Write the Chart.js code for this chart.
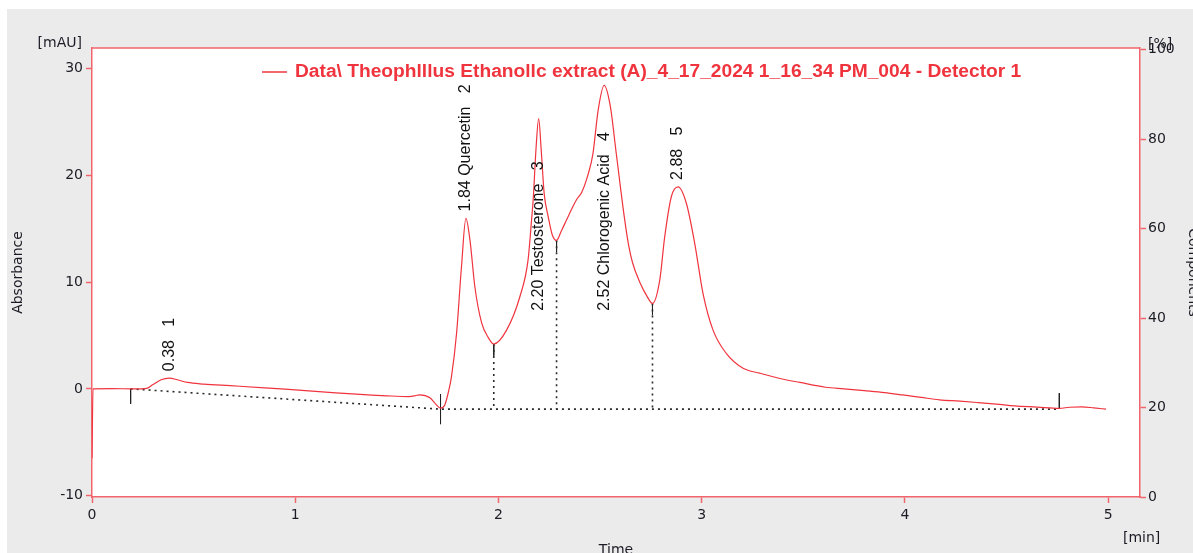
<!DOCTYPE html>
<html>
<head>
<meta charset="utf-8">
<script src="https://cdn.jsdelivr.net/npm/chart.js@4.4.1/dist/chart.umd.min.js"></script>
<style>
  html, body { margin: 0; padding: 0; background: #fff; }
  #wrap { width: 1193px; height: 553px; }
</style>
</head>
<body>
<div id="wrap"><canvas id="chromatogram" width="1193" height="553"></canvas></div>
<script>
// detector trace
const times = [
  0, 0.005, 0.1, 0.2, 0.27, 0.3, 0.34, 0.38, 0.42, 0.47, 0.55, 0.68, 0.85, 1.0, 1.15, 1.3,
  1.45, 1.56, 1.6, 1.613, 1.663, 1.69, 1.715, 1.736, 1.755, 1.769, 1.794, 1.818, 1.84, 1.86,
  1.884, 1.917, 1.95, 1.977, 2.04, 2.105, 2.146, 2.163, 2.171, 2.185, 2.198, 2.21, 2.225,
  2.245, 2.265, 2.286, 2.31, 2.335, 2.36, 2.384, 2.41, 2.44, 2.465, 2.49, 2.52, 2.55, 2.58,
  2.62, 2.64, 2.66, 2.695, 2.73, 2.758, 2.794, 2.818, 2.851, 2.884, 2.925, 2.966, 3.007,
  3.056, 3.122, 3.204, 3.286, 3.39, 3.483, 3.61, 3.7, 3.8, 3.9, 3.99, 4.08, 4.17, 4.27,
  4.36, 4.45, 4.54, 4.65, 4.76, 4.81, 4.87, 4.93, 4.99
];
const absorbance = [
  -6.5, 0, 0.02, 0, 0.05, 0.4, 0.85, 1.0, 0.85, 0.6, 0.45, 0.3, 0.1, -0.1, -0.3, -0.5,
  -0.65, -0.72, -0.6, -0.56, -0.84, -1.4, -1.8, -1.5, -0.2, 1.15, 5.2, 11.4, 15.95, 13.9,
  9.56, 6.2, 4.8, 4.2, 5.5, 8.6, 12.1, 15.8, 17.7, 22.5, 25.3, 22.5, 18.3,
  16.1, 14.4, 13.9, 14.8, 15.8, 16.8, 17.7, 18.4, 20.0, 22.0, 26.0, 28.4, 26.5, 22.0,
  16.0, 13.5, 11.8, 10.0, 8.7, 8.0, 10.2, 14.2, 18.0, 18.9, 17.35, 13.6, 8.9,
  5.5, 3.3, 1.93, 1.47, 0.95, 0.6, 0.15, 0.0, -0.17, -0.35, -0.57, -0.8, -1.03, -1.15,
  -1.28, -1.42, -1.59, -1.7, -1.82, -1.72, -1.68, -1.78, -1.9
];

// integration baseline and peak splits
const baselineTimes = [0.19, 1.715, 4.76];
const baselineValues = [0, -1.9, -1.9];
const dropTimes = [1.977, 2.286, 2.758];
const dropValues = [4.2, 13.9, 8.0];
const markTimes = [0.19, 1.715, 4.76, 1.977, 2.286, 2.758];
const markTops = [0, -0.5, -0.4, 4.2, 13.9, 8.0];
const markBottoms = [-1.4, -3.3, -1.85, 3.1, 12.8, 6.9];

// peak table
const peakTimes = [0.38, 1.84, 2.20, 2.52, 2.88];
const peakApex = [1.0, 15.95, 25.3, 28.4, 18.9];
const peakNames = ['', 'Quercetin', 'Testosterone', 'Chlorogenic Acid', ''];
const peakNumbers = ['1', '2', '3', '4', '5'];

const xTicks = [0, 1, 2, 3, 4, 5];
const yTicks = [-10, 0, 10, 20, 30];
const pctTicks = [0, 20, 40, 60, 80, 100];

const seriesName = 'Data\\ Theophlllus Ethanollc extract (A)_4_17_2024 1_16_34 PM_004 - Detector 1';

const RED = '#f0343e';
const AXIS_RED = '#f2646c';
const INK = '#1c1c26';
const tickFont = { family: 'DejaVu Sans', size: 14 };

const dotted = (data) => ({
  data, borderColor: '#2a2a2a', borderWidth: 1.6, borderDash: [2, 4],
  pointRadius: 0, tension: 0, fill: false
});

const datasets = [
  {
    label: seriesName,
    data: times.map((t, i) => ({ x: t, y: absorbance[i] })),
    borderColor: RED, borderWidth: 1.2, pointRadius: 0,
    cubicInterpolationMode: 'monotone', fill: false
  },
  dotted(baselineTimes.map((t, i) => ({ x: t, y: baselineValues[i] })))
];
dropTimes.forEach((t, i) => {
  datasets.push(dotted([{ x: t, y: dropValues[i] }, { x: t, y: -1.9 }]));
});
markTimes.forEach((t, i) => {
  datasets.push({
    data: [{ x: t, y: markTops[i] }, { x: t, y: markBottoms[i] }],
    borderColor: '#222', borderWidth: 1, pointRadius: 0, tension: 0
  });
});

const backdrop = {
  id: 'backdrop',
  beforeDraw(chart) {
    const { ctx, chartArea: a } = chart;
    ctx.save();
    ctx.fillStyle = '#fff';
    ctx.fillRect(0, 0, chart.width, chart.height);
    ctx.fillStyle = '#ebebeb';
    ctx.fillRect(7, 9, chart.width - 7, chart.height - 9);
    ctx.fillStyle = '#fff';
    ctx.fillRect(a.left, a.top, a.right - a.left, a.bottom - a.top);
    ctx.restore();
  },
  afterDraw(chart) {
    const { ctx, chartArea: a } = chart;
    ctx.save();
    ctx.strokeStyle = AXIS_RED;
    ctx.lineWidth = 1.5;
    ctx.beginPath();
    ctx.moveTo(a.left, a.top);
    ctx.lineTo(a.right, a.top);
    ctx.stroke();
    ctx.restore();
  }
};

const annotations = {
  id: 'annotations',
  afterDatasetsDraw(chart) {
    const { ctx, scales: { x, y } } = chart;
    ctx.save();

    // legend inside the plot
    ctx.font = 'bold 19.2px "Liberation Sans Narrow", "Liberation Sans", sans-serif';
    ctx.fillStyle = RED;
    ctx.textBaseline = 'middle';
    ctx.textAlign = 'left';
    ctx.fillText(seriesName, 295, 72);
    ctx.strokeStyle = RED;
    ctx.lineWidth = 1.5;
    ctx.beginPath();
    ctx.moveTo(262, 72);
    ctx.lineTo(287, 72);
    ctx.stroke();

    // peak labels, rotated
    ctx.font = '16px "Liberation Sans", sans-serif';
    ctx.fillStyle = '#111';
    peakTimes.forEach((t, i) => {
      const name = peakNames[i] ? ' ' + peakNames[i] : '';
      const text = t.toFixed(2) + name + '   ' + peakNumbers[i];
      const px = x.getPixelForValue(t);
      let py = y.getPixelForValue(peakApex[i]) - 7;
      if (i === 2 || i === 3) py = y.getPixelForValue(7.3);
      ctx.save();
      ctx.translate(px, py);
      ctx.rotate(-Math.PI / 2);
      ctx.textAlign = 'left';
      ctx.textBaseline = 'middle';
      ctx.fillText(text, 0, 0);
      ctx.restore();
    });

    // unit labels
    ctx.font = '14px "DejaVu Sans", sans-serif';
    ctx.fillStyle = INK;
    ctx.textBaseline = 'middle';
    ctx.textAlign = 'right';
    ctx.fillText('[mAU]', 82, 43);
    ctx.textAlign = 'left';
    ctx.fillText('[%]', 1148, 44);
    ctx.fillText('[min]', 1123, 538);
    ctx.restore();
  }
};

const axisBase = {
  border: { color: AXIS_RED, width: 1.5 },
  grid: { drawOnChartArea: false, color: AXIS_RED, tickLength: 6, tickWidth: 1.5 },
  ticks: { font: tickFont, color: INK }
};

new Chart(document.getElementById('chromatogram'), {
  type: 'line',
  data: { datasets },
  plugins: [backdrop, annotations],
  options: {
    responsive: false,
    animation: false,
    layout: { padding: { top: 48, left: 0, right: 0, bottom: 0 } },
    plugins: { legend: { display: false }, tooltip: { enabled: false } },
    scales: {
      x: {
        ...axisBase,
        type: 'linear', min: 0, max: 5.157,
        afterBuildTicks: (s) => { s.ticks = xTicks.map((v) => ({ value: v })); },
        afterFit: (s) => { s.height = 56; },
        ticks: { ...axisBase.ticks, padding: 4, maxRotation: 0 },
        title: { display: true, text: 'Time', font: tickFont, color: INK, padding: { top: 0, bottom: -6 } }
      },
      y: {
        ...axisBase,
        position: 'left', min: -10.12, max: 31.9,
        afterBuildTicks: (s) => { s.ticks = yTicks.map((v) => ({ value: v })); },
        afterFit: (s) => { s.width = 92; },
        ticks: { ...axisBase.ticks, padding: 3 },
        title: { display: true, text: 'Absorbance', font: tickFont, color: INK, padding: { top: 10, bottom: 0 } }
      },
      y2: {
        ...axisBase,
        position: 'right', min: 0, max: 100.4,
        afterBuildTicks: (s) => { s.ticks = pctTicks.map((v) => ({ value: v })); },
        afterFit: (s) => { s.width = 53; },
        ticks: { ...axisBase.ticks, padding: 2 },
        title: { display: true, text: 'Components', font: tickFont, color: INK, padding: { top: -8, bottom: 0 } }
      }
    }
  }
});
</script>
</body>
</html>
